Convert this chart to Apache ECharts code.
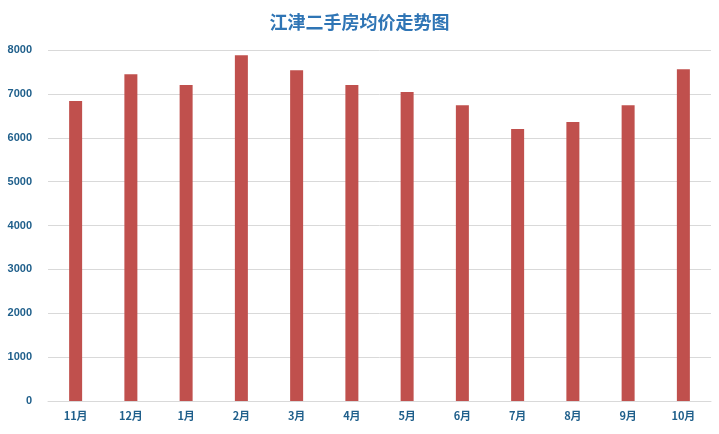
<!DOCTYPE html>
<html><head><meta charset="utf-8">
<script src="https://cdn.jsdelivr.net/npm/echarts@6/dist/echarts.min.js"></script>
<style>html,body{margin:0;padding:0;background:#fff}#c{width:719px;height:434px}</style>
</head><body><div id="c"></div>
<script>
var categories = ['11月','12月','1月','2月','3月','4月','5月','6月','7月','8月','9月','10月'];
var prices = [6840, 7450, 7200, 7880, 7540, 7200, 7040, 6740, 6200, 6360, 6740, 7560];
var chart = echarts.init(document.getElementById('c'));
chart.setOption({
  animation: false,
  backgroundColor: '#fff',
  title: {
    text: '江津二手房均价走势图', left: 'center', top: 8,
    textStyle: {color: '#2f75b5', fontSize: 18, fontWeight: 'bold', fontFamily: 'Noto Sans CJK SC'}
  },
  grid: {left: 48, right: 8, top: 50, bottom: 33, containLabel: false, outerBoundsMode: 'none'},
  xAxis: {
    type: 'category', data: categories,
    axisLine: {lineStyle: {color: '#d9d9d9'}},
    axisTick: {show: false},
    axisLabel: {color: '#1f5f8b', fontSize: 11, fontWeight: 'bold', margin: 9, fontFamily: 'Noto Sans CJK SC'}
  },
  yAxis: {
    type: 'value', min: 0, max: 8000, interval: 1000,
    axisLine: {show: false}, axisTick: {show: false},
    splitLine: {lineStyle: {color: '#d9d9d9'}},
    axisLabel: {color: '#1f5f8b', fontSize: 11, fontWeight: 'bold', margin: 16, fontFamily: 'Liberation Sans',
      formatter: function (v) { return String(v); }}
  },
  series: [{
    type: 'bar', data: prices, barWidth: 13,
    itemStyle: {color: '#c0504d'}
  }]
});
</script></body></html>
